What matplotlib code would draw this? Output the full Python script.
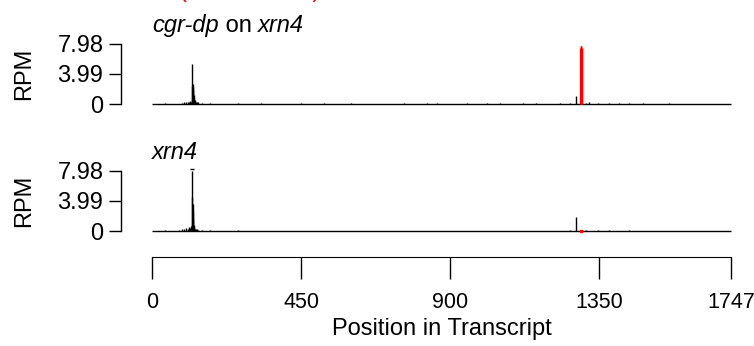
#!/usr/bin/env python3

# +
# import(s)
# -
import matplotlib
matplotlib.use('Agg')
import matplotlib.pyplot as plt
from matplotlib.transforms import offset_copy

plt.rcParams['font.family'] = ['Liberation Sans', 'DejaVu Sans']

# +
# constant(s)
# -
W, H = 754, 346
FS = 17
X_MAX = 1747
Y_MAX = 7.98
X_TICKS = [0, 450, 900, 1350, 1747]
Y_TICKS = [0, 3.99, 7.98]
Y_TICK_LABELS = ['0', '3.99', '7.98']

# top panel (cgr-dp on xrn4), black reads
top_pos = [40, 92, 98, 103, 108, 112, 115, 118, 120, 121, 122, 123, 124, 125, 126, 127,
           128, 130, 132, 135, 140, 150, 175, 210, 260, 300, 330, 395, 420, 450, 480,
           520, 560, 600, 640, 690, 760, 800, 830, 860, 900, 950, 985, 1010, 1050,
           1090, 1120, 1160, 1190, 1230, 1262, 1279, 1310, 1320, 1345, 1380, 1410,
           1440, 1480, 1520, 1560, 1600, 1640]
top_val = [0.15, 0.12, 0.2, 0.25, 0.3, 0.25, 0.4, 0.3, 0.5, 2.4, 5.3, 2.6, 2.2, 1.8, 1.2,
           0.6, 0.4, 0.5, 0.3, 0.25, 0.2, 0.1, 0.08, 0.06, 0.08, 0.06, 0.07, 0.06, 0.05,
           0.08, 0.06, 0.07, 0.06, 0.08, 0.06, 0.06, 0.07, 0.06, 0.08, 0.07, 0.06, 0.07,
           0.06, 0.08, 0.07, 0.06, 0.08, 0.07, 0.06, 0.1, 0.15, 1.1, 0.15, 0.2, 0.1,
           0.1, 0.12, 0.08, 0.07, 0.06, 0.07, 0.05, 0.05]
# top panel, red reads (cleavage site)
top_red_pos = [1292, 1293, 1294, 1295, 1296]
top_red_val = [7.5, 7.7, 7.75, 7.7, 7.5]

# bottom panel (xrn4), black reads
bot_pos = [40, 80, 92, 98, 103, 108, 112, 115, 118, 120, 121, 122, 123, 124, 125, 126,
           127, 128, 130, 132, 135, 140, 150, 175, 210, 260, 300, 330, 395, 450, 520,
           600, 690, 760, 830, 900, 985, 1050, 1120, 1190, 1262, 1279, 1310, 1345,
           1380, 1440, 1520, 1600]
bot_val = [0.1, 0.1, 0.2, 0.25, 0.35, 0.3, 0.5, 0.4, 0.6, 0.8, 7.98, 4.5, 3.6, 2.6, 1.6,
           0.8, 0.5, 0.4, 0.3, 0.3, 0.2, 0.15, 0.1, 0.08, 0.06, 0.07, 0.06, 0.06, 0.05,
           0.06, 0.05, 0.06, 0.05, 0.06, 0.05, 0.06, 0.05, 0.06, 0.05, 0.06, 0.08,
           1.9, 0.1, 0.08, 0.1, 0.07, 0.06, 0.05]
bot_red_pos = [1294]
bot_red_val = [0.05]


def _px_axes(fig, y_zero, y_top):
    # axes placed in pixel coordinates (x spans 0..X_MAX)
    left, right = 152, 731
    return fig.add_axes([left / W, 1 - y_zero / H, (right - left) / W, (y_zero - y_top) / H])


def _panel(ax, pos, val, red_pos, red_val):
    ax.set_xlim(0, X_MAX)
    ax.set_ylim(0, Y_MAX)
    ax.hlines(0, 0, X_MAX, color='black', lw=1.0, clip_on=False)
    ax.vlines(pos, 0, val, color='black', lw=1.0, clip_on=False)
    ax.vlines(red_pos, 0, red_val, color='red', lw=1.0, clip_on=False)
    for s in ['top', 'right', 'bottom']:
        ax.spines[s].set_visible(False)
    ax.spines['left'].set_position(('outward', 22))
    ax.spines['left'].set_linewidth(1.0)
    ax.set_xticks([])
    ax.set_yticks(Y_TICKS)
    ax.set_yticklabels(Y_TICK_LABELS, fontsize=FS)
    ax.tick_params(axis='y', length=9, width=1.0, pad=4)
    ax.set_ylabel('RPM', fontsize=FS, labelpad=16)
    ax.patch.set_alpha(0)


def _rich_title(fig, ax, parts, y=1.12):
    # draw (text, style) pieces one after another
    fig.canvas.draw()
    r = fig.canvas.get_renderer()
    tr = ax.transAxes
    for _txt, _style in parts:
        t = ax.text(0, y, _txt, style=_style, fontsize=FS, transform=tr, va='bottom')
        w = t.get_window_extent(renderer=r).width
        tr = offset_copy(tr, fig=fig, x=w, units='dots')


# +
# main()
# -
if __name__ == '__main__':

    fig = plt.figure(figsize=(W / 100, H / 100), dpi=100)

    # red header, cut off at the top edge as in the original
    fig.text(250 / W, 1.0 + 3 / H, '(cleaved site)', color='red', fontsize=FS, ha='center', va='baseline')

    ax1 = _px_axes(fig, 104, 44)
    _panel(ax1, top_pos, top_val, top_red_pos, top_red_val)

    ax2 = _px_axes(fig, 231, 171)
    _panel(ax2, bot_pos, bot_val, bot_red_pos, bot_red_val)
    ax2.plot(bot_pos[bot_val.index(max(bot_val))], 8.25, marker='_', color='black', ms=3, clip_on=False)
    ax2.plot(bot_red_pos, bot_red_val, 's', color='red', ms=1.5, clip_on=False)

    # separate x axis
    ax3 = fig.add_axes([152 / W, 1 - 257 / H, (731 - 152) / W, 0.001])
    ax3.set_xlim(0, X_MAX)
    for s in ['top', 'right', 'left']:
        ax3.spines[s].set_visible(False)
    ax3.set_yticks([])
    ax3.set_xticks(X_TICKS)
    ax3.set_xticklabels([str(t) for t in X_TICKS], fontsize=15.5)
    ax3.tick_params(axis='x', length=16, width=1.0, pad=9)
    ax3.set_xlabel('Position in Transcript', fontsize=FS, labelpad=4)
    ax3.patch.set_alpha(0)

    _rich_title(fig, ax1, [('cgr-dp', 'italic'), (' on ', 'normal'), ('xrn4', 'italic')])
    _rich_title(fig, ax2, [('xrn4', 'italic')])

    fig.savefig('out.png', dpi=100)
